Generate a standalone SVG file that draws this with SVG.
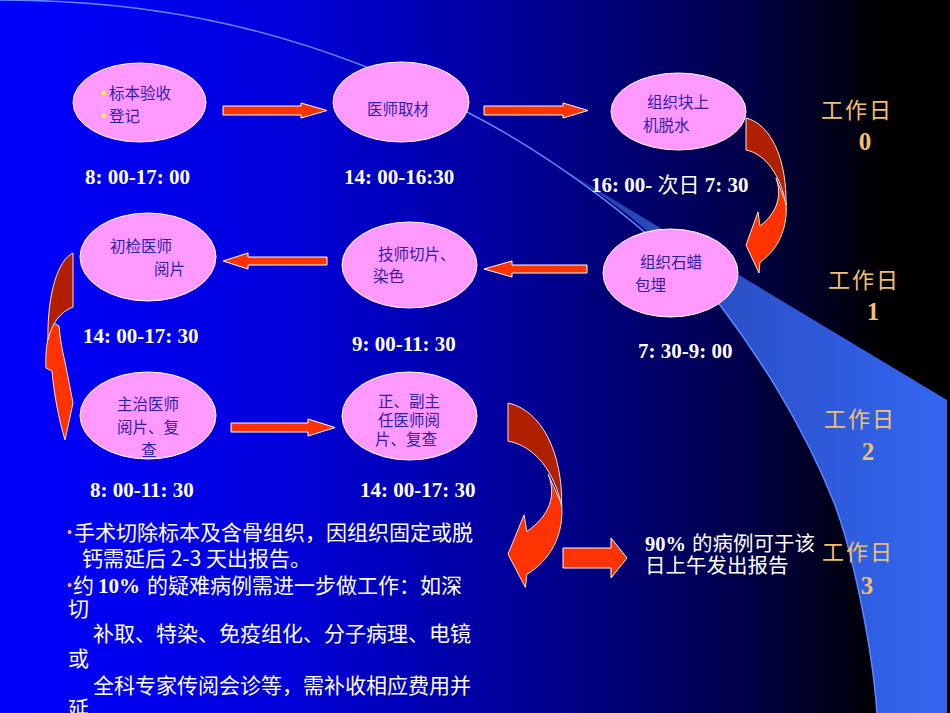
<svg xmlns="http://www.w3.org/2000/svg" width="950" height="713" viewBox="0 0 950 713">
<defs>
<linearGradient id="bg" x1="0" y1="0" x2="950" y2="0" gradientUnits="userSpaceOnUse">
<stop offset="0" stop-color="#0000ff"/>
<stop offset="0.3" stop-color="#0000da"/>
<stop offset="0.55" stop-color="#000096"/>
<stop offset="0.78" stop-color="#00004a"/>
<stop offset="0.93" stop-color="#000000"/>
<stop offset="1" stop-color="#000000"/>
</linearGradient>
<linearGradient id="band" x1="560" y1="0" x2="947" y2="0" gradientUnits="userSpaceOnUse">
<stop offset="0" stop-color="#2440a8"/>
<stop offset="1" stop-color="#3366f0"/>
</linearGradient>
<g id="curl">
<path class="cb" d="M776,178 C782,195 778,212 760,226 L758,212 L746,245 L759,273 L760,262 C778,250 788,228 786,203 Z"/>
<path class="cd" d="M746,118 C771,124 787,160 786,205 C781,176 766,154 746,150 Z"/>
</g>
</defs>
<style>
.nd ellipse{fill:#ff99ff;stroke:#ffffff;stroke-width:1}
.nt{font-family:"Noto Sans CJK SC","Liberation Sans",sans-serif;font-size:15.5px;fill:#3020a8}
.tm{font-family:"Liberation Serif","Noto Sans CJK SC",serif;font-size:21px;font-weight:bold;fill:#ffffff}
.cj{font-family:"Noto Sans CJK SC",sans-serif;font-weight:normal}
.day{font-family:"Noto Sans CJK SC",sans-serif;font-size:22px;fill:#f0c070;letter-spacing:2px}
.dn{font-family:"Liberation Serif",serif;font-size:25px;font-weight:bold;fill:#f0c070}
.bt{font-family:"Noto Sans CJK SC","Liberation Sans",sans-serif;font-size:21px;fill:#ffffff}
.num{font-family:"Liberation Serif",serif;font-weight:bold;font-size:21px;fill:#ffffff}
.dot{font-family:"Liberation Sans",sans-serif;font-size:14px;fill:#ffaa88}
.ar{fill:#ff3300;stroke:#ffffff;stroke-width:1;stroke-linejoin:miter}
.cb{fill:#ff3300;stroke:#ffe0d0;stroke-width:1;vector-effect:non-scaling-stroke}
.cd{fill:#b02000;stroke:#ffe0d0;stroke-width:1;vector-effect:non-scaling-stroke}
.bul{fill:#ffff33}
</style>
<rect x="0" y="0" width="950" height="713" fill="url(#bg)"/>
<path d="M559,167 L947,400 L947,713 L877,713 C872,643 851,545 833,500 C803,425 758,355 720,305 C680,258 630,210 559,167 Z" fill="url(#band)"/>
<path d="M0,0 C155,0 300,28 467,112 C551,155 650,227 720,305 C758,355 803,425 833,500 C851,545 872,643 877,713" fill="none" stroke="#5f86ff" stroke-width="1.5"/>

<g id="day-labels">
<text class="day" x="821" y="118">工作日</text><text class="dn" x="865" y="150" text-anchor="middle">0</text>
<text class="day" x="828" y="288">工作日</text><text class="dn" x="873" y="320" text-anchor="middle">1</text>
<text class="day" x="824" y="427">工作日</text><text class="dn" x="868" y="460" text-anchor="middle">2</text>
<text class="day" x="822" y="560">工作日</text><text class="dn" x="867" y="594" text-anchor="middle">3</text>
</g>

<g id="connectors">
<path class="ar" d="M223,106 L301,106 L301,103 L327,110.5 L301,118 L301,115 L223,115 Z"/>
<path class="ar" d="M484,106 L563,106 L563,103 L588,110.5 L563,118 L563,115 L484,115 Z"/>
<path class="ar" d="M327,257 L248,257 L248,253 L223,261 L248,269 L248,265 L327,265 Z"/>
<path class="ar" d="M587,265 L512,265 L512,261 L484,269 L512,277 L512,273 L587,273 Z"/>
<path class="ar" d="M231,423 L308,423 L308,419 L335,427.5 L308,436 L308,432 L231,432 Z"/>
<path class="ar" d="M563,548 L611,548 L611,538 L627,558 L611,578 L611,568 L563,568 Z"/>
<use href="#curl"/>
<use href="#curl" transform="translate(508,403) scale(1.34,1.19) translate(-746,-118)"/>
<path class="cb" d="M52,322 C47,338 45,355 46,368 L52,371 C54,395 59,420 65,440 L73,403 L65,362 C62,350 60,338 59,326 Z"/>
<path class="cd" d="M73,253 C59,259 47,292 48,340 C52,323 60,312 73,307 Z"/>
</g>

<g id="node-specimen" class="nd">
<ellipse cx="139.5" cy="102.5" rx="66.5" ry="39.5"/>
<rect class="bul" x="102" y="91" width="3.5" height="4"/>
<rect class="bul" x="102" y="113.5" width="3.5" height="4"/>
<text class="nt" x="109" y="99">标本验收</text>
<text class="nt" x="109" y="122">登记</text>
<text class="tm" x="85" y="184">8: 00-17: 00</text>
</g>
<g id="node-grossing" class="nd">
<ellipse cx="401" cy="102" rx="68" ry="40"/>
<text class="nt" x="367" y="115">医师取材</text>
<text class="tm" x="344" y="184">14: 00-16:30</text>
</g>
<g id="node-dehydration" class="nd">
<ellipse cx="678.5" cy="111.5" rx="67.5" ry="38.5"/>
<text class="nt" x="647" y="108">组织块上</text>
<text class="nt" x="643" y="131">机脱水</text>
<text class="tm" x="591" y="192">16: 00- <tspan class="cj">次日</tspan> 7: 30</text>
</g>
<g id="node-embedding" class="nd">
<ellipse cx="670.5" cy="273" rx="67.5" ry="44"/>
<text class="nt" x="640" y="268">组织石蜡</text>
<text class="nt" x="635" y="290.5">包埋</text>
<text class="tm" x="638" y="358">7: 30-9: 00</text>
</g>
<g id="node-sectioning" class="nd">
<ellipse cx="409.5" cy="265" rx="67.5" ry="43"/>
<text class="nt" x="378" y="260">技师切片、</text>
<text class="nt" x="373" y="282">染色</text>
<text class="tm" x="352" y="351">9: 00-11: 30</text>
</g>
<g id="node-first-read" class="nd">
<ellipse cx="148" cy="257" rx="68" ry="44"/>
<text class="nt" x="110" y="252">初检医师</text>
<text class="nt" x="154" y="275">阅片</text>
<text class="tm" x="83" y="343">14: 00-17: 30</text>
</g>
<g id="node-attending" class="nd">
<ellipse cx="148" cy="415.5" rx="68" ry="43.5"/>
<text class="nt" x="148" y="410" text-anchor="middle">主治医师</text>
<text class="nt" x="148" y="432.5" text-anchor="middle">阅片、复</text>
<text class="nt" x="149" y="455.5" text-anchor="middle">查</text>
<text class="tm" x="90" y="497">8: 00-11: 30</text>
</g>
<g id="node-chief" class="nd">
<ellipse cx="409.5" cy="416" rx="67.5" ry="44"/>
<text class="nt" x="409" y="406.5" text-anchor="middle">正、副主</text>
<text class="nt" x="409" y="426" text-anchor="middle">任医师阅</text>
<text class="nt" x="406" y="445" text-anchor="middle">片、复查</text>
<text class="tm" x="360" y="497">14: 00-17: 30</text>
</g>
<g id="node-report">
<text class="num" x="645" y="550.5" style="font-size:20.5px">90%</text>
<text class="bt" x="692" y="550.5" style="font-size:20.5px">的病例可于该</text>
<text class="bt" x="645" y="573" style="font-size:20.5px">日上午发出报告</text>
</g>

<g id="notes">
<text class="dot" x="67" y="537">•</text>
<text class="bt" x="74" y="539.5">手术切除标本及含骨组织，因组织固定或脱</text>
<text class="bt" x="82" y="566">钙需延后 2-3 天出报告。</text>
<text class="dot" x="67" y="590">•</text>
<text class="bt" x="73" y="593">约</text>
<text class="num" x="98" y="593">10%</text>
<text class="bt" x="147" y="593">的疑难病例需进一步做工作：如深</text>
<text class="bt" x="68" y="616">切</text>
<text class="bt" x="93" y="641">补取、特染、免疫组化、分子病理、电镜</text>
<text class="bt" x="68" y="666">或</text>
<text class="bt" x="93" y="693">全科专家传阅会诊等，需补收相应费用并</text>
<text class="bt" x="68" y="716">延</text>
</g>
</svg>
